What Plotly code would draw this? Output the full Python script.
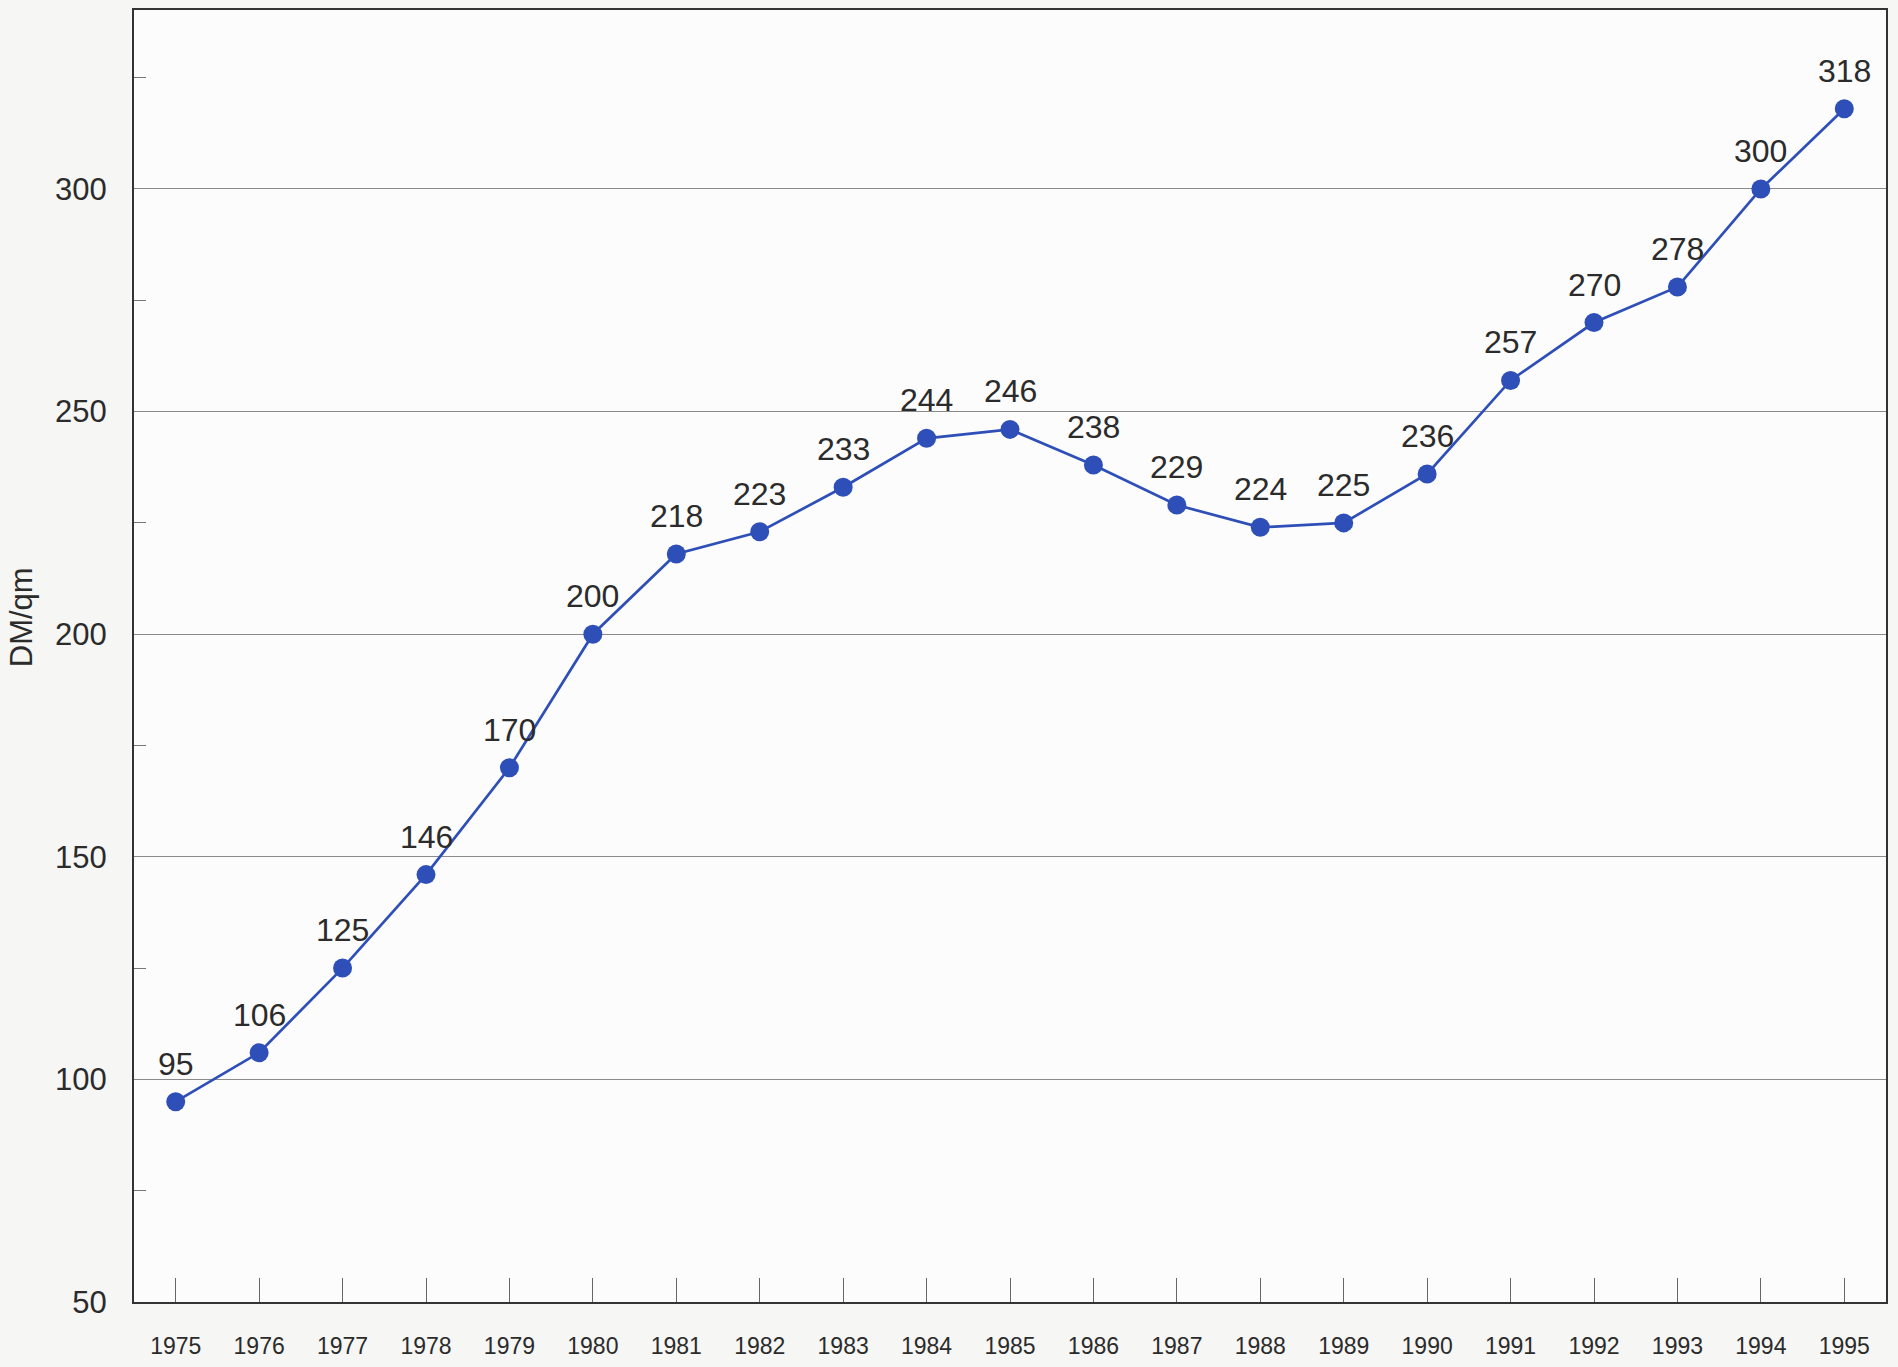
import plotly.graph_objects as go

# Average price per square metre, 1975-1995
years = list(range(1975, 1996))
price_dm_qm = [95, 106, 125, 146, 170, 200, 218, 223, 233, 244, 246,
               238, 229, 224, 225, 236, 257, 270, 278, 300, 318]

y_ticks = [50, 100, 150, 200, 250, 300]
x_tick_labels = [str(y) for y in years]

BLUE = "#2f4fb8"
TEXT = "#2b2b2b"
FONT = "Liberation Sans, Arial, sans-serif"

fig = go.Figure()
fig.add_trace(go.Scatter(
    x=years, y=price_dm_qm,
    mode="lines+markers",
    line=dict(color=BLUE, width=2.7),
    marker=dict(color=BLUE, size=19),
    hoverinfo="x+y",
    showlegend=False,
))

# value labels above each point
for x, v in zip(years, price_dm_qm):
    fig.add_annotation(x=x, y=v, text=str(v), showarrow=False,
                       yshift=38, yanchor="middle",
                       font=dict(family=FONT, size=32, color=TEXT))

# axis title, placed left of the tick labels
fig.add_annotation(xref="paper", yref="paper", x=0, y=0.53, xshift=-113,
                   xanchor="center", yanchor="middle",
                   text="DM/qm", textangle=-90, showarrow=False,
                   font=dict(family=FONT, size=31, color=TEXT))

fig.update_xaxes(
    range=[1974.5, 1995.5],
    tickmode="array", tickvals=years, ticktext=x_tick_labels,
    ticks="inside", ticklen=24, tickwidth=1, tickcolor="#666",
    ticklabelstandoff=22,
    tickfont=dict(family=FONT, size=23, color=TEXT),
    showgrid=False, zeroline=False,
    showline=True, linecolor="#333", linewidth=2, mirror=True,
)
fig.update_yaxes(
    range=[50, 340.2],
    tickmode="array", tickvals=y_ticks,
    ticks="", ticklabelstandoff=19,
    tickfont=dict(family=FONT, size=31, color=TEXT),
    showgrid=True, gridcolor="#8a8a8a", gridwidth=1,
    zeroline=False,
    showline=True, linecolor="#333", linewidth=2, mirror=True,
    minor=dict(tickmode="array", tickvals=[75, 125, 175, 225, 275, 325],
               ticks="inside", ticklen=12, tickwidth=1, tickcolor="#777",
               showgrid=False),
)

fig.update_layout(
    width=1898, height=1367,
    margin=dict(l=134, r=12, t=8, b=62),
    paper_bgcolor="#f6f6f4",
    plot_bgcolor="#fcfcfc",
    font=dict(family=FONT, color=TEXT),
)

fig.write_html("out.html")
